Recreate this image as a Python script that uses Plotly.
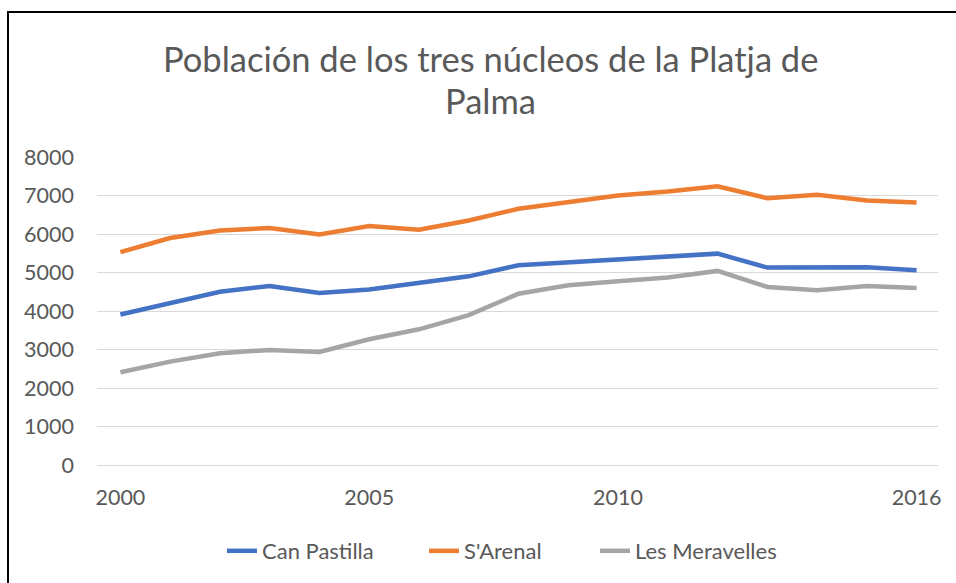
import plotly.graph_objects as go

years = list(range(2000, 2017))
can_pastilla = [3910, 4210, 4500, 4650, 4470, 4560, 4740, 4900, 5190, 5265, 5320, 5390, 5490, 5128, 5119, 5136, 5058]
s_arenal = [5530, 5895, 6093, 6153, 5990, 6205, 6110, 6352, 6655, 6826, 6999, 7102, 7240, 6929, 7017, 6869, 6818]
les_meravelles = [2411, 2686, 2903, 2988, 2937, 3265, 3524, 3894, 4450, 4670, 4774, 4869, 5041, 4626, 4541, 4652, 4600]

series_names = ["Can Pastilla", "S'Arenal", "Les Meravelles"]
series_values = [can_pastilla, s_arenal, les_meravelles]
colors = ["#4472C4", "#ED7D31", "#A5A5A5"]
x_tick_vals = [2000, 2005, 2010, 2016]
y_tick_vals = [0, 1000, 2000, 3000, 4000, 5000, 6000, 7000, 8000]
title_lines = ["Población de los tres núcleos de la Platja de", "Palma"]

FONT = "Lato"
TXT = "#595959"

W, H = 956, 583
L, R, T, B = 97, 938, 157, 465
pw, ph = R - L, B - T

def px(x):
    return (x - L) / pw

def py(y):
    return (B - y) / ph

legend_ids = ["legend", "legend2", "legend3"]
legend_text_x = [262, 464, 635]

fig = go.Figure()
for name, vals, col, lid in zip(series_names, series_values, colors, legend_ids):
    fig.add_trace(go.Scatter(x=years, y=vals, name=name, mode="lines", legend=lid,
                             line=dict(color=col, width=4.5)))

legend_common = dict(orientation="h", xanchor="left", yanchor="middle", y=py(551),
                     font=dict(size=22, color=TXT), bgcolor="rgba(0,0,0,0)")

fig.update_layout(
    width=W, height=H,
    margin=dict(l=L, r=W - R, t=T, b=H - B, autoexpand=False),
    paper_bgcolor="white", plot_bgcolor="white",
    font=dict(family=FONT, color=TXT, size=21.5),
    showlegend=True,
    legend=dict(x=px(legend_text_x[0] - 40), **legend_common),
    legend2=dict(x=px(legend_text_x[1] - 40), **legend_common),
    legend3=dict(x=px(legend_text_x[2] - 40), **legend_common),
    xaxis=dict(range=[1999.53, 2016.43], tickvals=x_tick_vals, ticktext=[str(v) for v in x_tick_vals],
               showgrid=False, zeroline=False, showline=False, ticks="",
               tickfont=dict(size=21.5, color=TXT), ticklabelstandoff=17, fixedrange=True),
    yaxis=dict(range=[0, 8000], tickvals=y_tick_vals, showgrid=True, gridcolor="#d9d9d9",
               gridwidth=1, zeroline=True, zerolinecolor="#d9d9d9", zerolinewidth=1,
               showline=False, ticks="", tickfont=dict(size=21.5, color=TXT),
               ticklabelstandoff=22, fixedrange=True),
)

fig.add_annotation(text=title_lines[0], x=px(490), y=py(58), xref="paper", yref="paper",
                   showarrow=False, xanchor="center", yanchor="middle",
                   font=dict(family=FONT, size=34.5, color=TXT))
fig.add_annotation(text=title_lines[1], x=px(490), y=py(101), xref="paper", yref="paper",
                   showarrow=False, xanchor="center", yanchor="middle",
                   font=dict(family=FONT, size=34.5, color=TXT))

# chart border (left and top edges visible)
fig.add_shape(type="path", xref="paper", yref="paper",
              path=f"M {px(8)},{py(584)} L {px(8)},{py(12)} L {px(957)},{py(12)}",
              line=dict(color="black", width=2))

fig.write_html("out.html", config={"displayModeBar": False},
               post_script="document.body.style.margin='0';document.body.style.overflow='hidden';")
